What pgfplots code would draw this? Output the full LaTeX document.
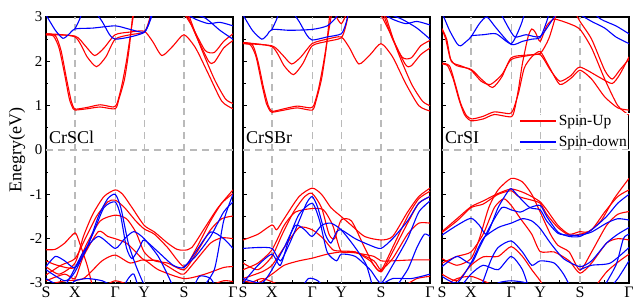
\documentclass[border=0pt]{standalone}
\usepackage{pgfplots}
\pgfplotsset{compat=1.18}
\usepackage{fontspec}
\setmainfont{Liberation Serif}
\definecolor{bandred}{RGB}{255,0,0}
\definecolor{bandblue}{RGB}{0,0,255}
\pgfplotsset{
  bandax/.style={
    scale only axis, width=187pt, height=266pt,
    xmin=0, xmax=1, ymin=-3, ymax=3,
    xtick={0,0.155,0.37,0.525,0.738,1},
    xticklabels={S,X,Γ,Y,S,Γ},
    minor xtick={0.078,0.262,0.45,0.63,0.87},
    ytick={-3,-2,-1,0,1,2,3},
    minor y tick num=1,
    xtick pos=bottom, ytick pos=left,
    tick align=inside,
    major tick length=4pt, minor tick length=2.5pt,
    every tick/.style={black, line width=0.8pt},
    axis line style={line width=1.1pt},
    tick label style={font=\fontsize{15}{15}\selectfont},
    xticklabel style={font=\fontsize{16}{16}\selectfont},
    clip=true,
  },
  up/.style={draw=bandred, line width=1.1pt, smooth, tension=0.4, forget plot},
  dn/.style={draw=bandblue, line width=1.1pt, smooth, tension=0.4, forget plot},
  gridl/.style={color=black!27, line width=1.3pt, dash pattern=on 7pt off 5pt, forget plot},
}
\newcommand\hsym{%
  \addplot[gridl] coordinates {(0,0)(1,0)};
  \addplot[gridl] coordinates {(0.155,-3)(0.155,3)};
  \addplot[gridl] coordinates {(0.37,-3)(0.37,3)};
  \addplot[gridl] coordinates {(0.525,-3)(0.525,3)};
  \addplot[gridl] coordinates {(0.738,-3)(0.738,3)};
}
\begin{document}
\begin{tikzpicture}
\path[use as bounding box] (-46pt,-19pt) rectangle (587pt,283pt);
% ---------------- Panel 1: CrSCl
\begin{axis}[bandax, at={(0pt,0pt)},
  yticklabels={-3,-2,-1,0,1,2,3},
  ylabel={Enegry(eV)},
  ylabel style={font=\fontsize{18}{18}\selectfont, at={(axis description cs:-0.155,0.5)}, anchor=center}]
\hsym
% spin up conduction
\addplot[up] coordinates {(0,2.6)(0.04,2.57)(0.07,2.3)(0.1,1.7)(0.125,1.15)(0.145,0.93)(0.155,0.9)(0.22,0.93)(0.29,0.97)(0.37,0.93)(0.39,1.15)(0.42,1.6)(0.445,2.3)(0.465,3.1)};
\addplot[up] coordinates {(0,2.62)(0.05,2.58)(0.08,2.25)(0.11,1.6)(0.135,1.1)(0.15,0.94)(0.16,0.92)(0.22,0.96)(0.29,1.02)(0.36,0.97)(0.38,1.05)(0.405,1.45)(0.43,2.0)(0.455,2.7)(0.47,3.1)};
\addplot[up] coordinates {(0,2.6)(0.155,2.57)(0.21,2.35)(0.26,2.13)(0.31,2.3)(0.37,2.6)(0.45,2.66)(0.525,2.68)(0.57,2.45)(0.62,2.13)(0.68,2.35)(0.738,2.6)(0.8,2.3)(0.87,1.7)(0.94,1.1)(1,0.93)};
\addplot[up] coordinates {(0,2.62)(0.155,2.55)(0.22,2.1)(0.27,1.88)(0.32,2.1)(0.37,2.5)(0.45,2.6)(0.525,2.66)(0.55,2.9)(0.57,3.2)};
\addplot[up] coordinates {(0.72,3.2)(0.78,2.8)(0.85,2.25)(0.9,2.2)(0.95,2.45)(1,2.62)};
\addplot[up] coordinates {(0.74,3.2)(0.8,2.6)(0.87,2.0)(0.9,1.98)(0.95,2.3)(1,2.47)};
\addplot[up] coordinates {(0.75,3.2)(0.82,2.4)(0.9,1.6)(0.96,1.15)(1,1.05)};
% spin up valence
\addplot[up] coordinates {(0,-2.25)(0.05,-2.24)(0.1,-2.1)(0.155,-1.87)(0.18,-2.1)(0.22,-2.6)(0.25,-3.1)};
\addplot[up] coordinates {(0,-2.63)(0.07,-2.8)(0.155,-2.55)(0.2,-1.95)(0.25,-1.45)(0.31,-1.05)(0.37,-0.9)(0.41,-1.0)(0.46,-1.3)(0.525,-1.7)(0.58,-1.85)(0.65,-2.1)(0.7,-2.24)(0.738,-2.26)(0.78,-2.2)(0.85,-1.75)(0.92,-1.3)(1,-0.9)};
\addplot[up] coordinates {(0,-2.82)(0.08,-2.6)(0.155,-2.45)(0.21,-2.0)(0.27,-1.5)(0.33,-1.17)(0.37,-1.13)(0.42,-1.3)(0.48,-1.6)(0.525,-1.78)(0.58,-1.9)(0.65,-2.2)(0.738,-2.63)(0.8,-2.25)(0.88,-1.6)(0.94,-1.2)(1,-0.98)};
\addplot[up] coordinates {(0,-2.5)(0.06,-2.6)(0.155,-2.65)(0.22,-2.1)(0.29,-1.6)(0.37,-1.47)(0.43,-1.55)(0.48,-1.85)(0.525,-2.3)(0.58,-2.5)(0.65,-2.55)(0.738,-2.7)(0.8,-2.35)(0.88,-1.8)(0.94,-1.55)(1,-1.49)};
\addplot[up] coordinates {(0,-2.95)(0.1,-2.8)(0.155,-2.9)(0.2,-2.4)(0.28,-1.84)(0.33,-1.95)(0.37,-2.0)(0.43,-2.1)(0.48,-2.3)(0.525,-2.48)(0.6,-2.5)(0.7,-2.75)(0.738,-2.8)(0.8,-2.5)(0.88,-2.1)(0.94,-1.98)(1,-2.0)};
\addplot[up] coordinates {(0,-3.05)(0.1,-2.95)(0.2,-2.9)(0.3,-2.5)(0.37,-2.37)(0.45,-2.55)(0.525,-2.48)(0.6,-2.7)(0.738,-2.9)(0.85,-2.8)(0.95,-2.65)(1,-2.63)};
\addplot[up] coordinates {(0.3,-3.1)(0.37,-2.95)(0.45,-3.05)(0.5,-3.1)};
\addplot[up] coordinates {(0.85,-3.1)(0.95,-2.95)(1,-2.97)};
% spin down conduction
\addplot[dn] coordinates {(0,3.05)(0.05,2.7)(0.09,2.52)(0.12,2.6)(0.155,2.73)(0.25,2.75)(0.37,2.8)(0.45,2.72)(0.525,2.66)(0.56,2.95)(0.58,3.2)};
\addplot[dn] coordinates {(0.155,2.73)(0.18,2.95)(0.2,3.2)};
\addplot[dn] coordinates {(0.25,3.2)(0.3,2.9)(0.34,2.6)(0.37,2.5)(0.45,2.55)(0.525,2.65)(0.55,2.85)(0.57,3.2)};
\addplot[dn] coordinates {(0.74,3.1)(0.8,2.95)(0.87,2.85)(0.93,2.88)(1,2.8)};
\addplot[dn] coordinates {(0.76,3.1)(0.85,2.98)(0.93,2.7)(1,2.5)};
% spin down valence
\addplot[dn] coordinates {(0,-2.63)(0.05,-2.4)(0.1,-2.5)(0.155,-2.65)(0.22,-2.2)(0.28,-1.5)(0.33,-1.1)(0.37,-1.0)(0.4,-1.3)(0.44,-2.1)(0.48,-2.6)(0.52,-3.0)(0.55,-3.2)};
\addplot[dn] coordinates {(0,-2.7)(0.1,-2.95)(0.155,-2.75)(0.25,-1.9)(0.31,-1.3)(0.37,-1.17)(0.4,-1.5)(0.43,-2.2)(0.46,-2.45)(0.5,-2.2)(0.525,-2.03)(0.6,-2.3)(0.68,-2.6)(0.738,-2.65)(0.8,-2.3)(0.88,-1.85)(0.95,-2.0)(1,-2.22)};
\addplot[dn] coordinates {(0,-2.9)(0.1,-3.05)(0.2,-2.3)(0.28,-1.95)(0.37,-2.22)(0.42,-2.0)(0.47,-1.84)(0.525,-2.0)(0.6,-2.4)(0.66,-2.9)(0.69,-3.2)};
\addplot[dn] coordinates {(0.82,-3.2)(0.9,-2.7)(0.95,-1.6)(1,-1.0)};
\addplot[dn] coordinates {(0.738,-2.63)(0.8,-2.4)(0.88,-1.95)(0.95,-1.4)(1,-1.17)};
\addplot[dn] coordinates {(0.12,-3.1)(0.155,-2.95)(0.22,-2.9)(0.3,-2.95)(0.37,-3.1)};
\addplot[dn] coordinates {(0.4,-3.2)(0.44,-2.9)(0.47,-2.8)(0.5,-3.2)};
\addplot[dn] coordinates {(0.78,-3.2)(0.82,-2.85)(0.88,-2.9)(0.92,-3.2)};
\node[anchor=base west, font=\fontsize{18}{18}\selectfont, inner sep=0pt] at (axis cs:0.015,0.14) {CrSCl};
\end{axis}
% ---------------- Panel 2: CrSBr
\begin{axis}[bandax, at={(197pt,0pt)}, yticklabels={}]
\hsym
\addplot[up] coordinates {(0,2.4)(0.04,2.37)(0.07,2.1)(0.1,1.5)(0.125,1.05)(0.145,0.88)(0.155,0.85)(0.22,0.9)(0.29,0.95)(0.37,0.9)(0.39,1.1)(0.42,1.6)(0.445,2.3)(0.465,3.1)};
\addplot[up] coordinates {(0,2.42)(0.05,2.38)(0.08,2.0)(0.11,1.4)(0.135,1.0)(0.15,0.89)(0.16,0.87)(0.22,0.93)(0.29,0.99)(0.36,0.95)(0.38,1.02)(0.405,1.4)(0.43,1.95)(0.455,2.6)(0.475,3.1)};
\addplot[up] coordinates {(0,2.4)(0.155,2.35)(0.21,2.15)(0.26,1.94)(0.31,2.1)(0.37,2.4)(0.45,2.5)(0.525,2.55)(0.57,2.3)(0.62,1.94)(0.68,2.15)(0.738,2.4)(0.8,2.1)(0.87,1.5)(0.94,1.0)(1,0.88)};
\addplot[up] coordinates {(0,2.42)(0.155,2.33)(0.22,1.9)(0.27,1.7)(0.32,1.95)(0.37,2.35)(0.45,2.45)(0.525,2.53)(0.55,2.8)(0.57,3.2)};
\addplot[up] coordinates {(0.48,3.15)(0.525,2.85)(0.56,3.15)};
\addplot[up] coordinates {(0.72,3.2)(0.78,2.7)(0.85,2.1)(0.9,2.08)(0.95,2.35)(1,2.47)};
\addplot[up] coordinates {(0.74,3.2)(0.8,2.5)(0.87,1.92)(0.9,1.9)(0.95,2.15)(1,2.3)};
\addplot[up] coordinates {(0.75,3.2)(0.82,2.3)(0.9,1.5)(0.96,1.1)(1,1.0)};
\addplot[up] coordinates {(0,-2.03)(0.08,-1.9)(0.155,-1.69)(0.18,-1.8)(0.22,-1.55)(0.3,-1.05)(0.37,-0.86)(0.42,-1.0)(0.47,-1.3)(0.525,-1.5)(0.58,-1.7)(0.65,-1.95)(0.738,-2.03)(0.8,-1.95)(0.88,-1.4)(0.94,-1.05)(1,-0.86)};
\addplot[up] coordinates {(0,-2.55)(0.08,-2.7)(0.155,-2.4)(0.21,-1.9)(0.27,-1.4)(0.33,-1.05)(0.37,-0.98)(0.42,-1.3)(0.46,-1.9)(0.49,-2.0)(0.525,-1.58)(0.58,-1.6)(0.65,-2.2)(0.7,-2.6)(0.738,-2.72)(0.8,-2.2)(0.88,-1.5)(0.94,-1.1)(1,-0.93)};
\addplot[up] coordinates {(0,-2.7)(0.08,-2.55)(0.155,-2.25)(0.22,-1.7)(0.28,-1.4)(0.37,-1.32)(0.43,-1.35)(0.48,-1.7)(0.525,-2.29)(0.6,-2.3)(0.68,-2.5)(0.738,-2.75)(0.8,-2.3)(0.88,-1.65)(0.94,-1.2)(1,-1.05)};
\addplot[up] coordinates {(0,-2.9)(0.1,-2.75)(0.155,-2.6)(0.22,-2.2)(0.3,-1.75)(0.37,-1.8)(0.43,-2.0)(0.48,-2.25)(0.525,-2.28)(0.6,-2.3)(0.7,-2.5)(0.738,-2.7)(0.8,-2.45)(0.88,-1.9)(0.94,-1.65)(1,-1.65)};
\addplot[up] coordinates {(0,-2.95)(0.08,-3.0)(0.155,-2.8)(0.22,-2.6)(0.3,-2.5)(0.37,-2.44)(0.45,-2.35)(0.525,-2.3)(0.6,-2.32)(0.7,-2.4)(0.738,-2.5)(0.8,-2.5)(0.9,-2.48)(1,-2.48)};
\addplot[up] coordinates {(0,-3.1)(0.1,-2.9)(0.2,-3.05)(0.3,-3.1)};
\addplot[up] coordinates {(0.85,-3.1)(0.93,-2.9)(1,-2.85)};
\addplot[dn] coordinates {(0,3.05)(0.05,2.7)(0.1,2.5)(0.13,2.6)(0.155,2.72)(0.25,2.7)(0.37,2.72)(0.45,2.8)(0.5,3.0)(0.52,3.2)};
\addplot[dn] coordinates {(0.155,2.72)(0.18,2.95)(0.2,3.2)};
\addplot[dn] coordinates {(0.25,3.2)(0.3,2.9)(0.34,2.6)(0.37,2.48)(0.45,2.55)(0.525,2.62)(0.55,2.85)(0.57,3.2)};
\addplot[dn] coordinates {(0.74,3.1)(0.8,2.95)(0.87,2.85)(0.93,2.9)(1,2.82)};
\addplot[dn] coordinates {(0.76,3.1)(0.85,2.95)(0.93,2.75)(1,2.5)};
\addplot[dn] coordinates {(0,-2.22)(0.08,-2.2)(0.155,-2.22)(0.2,-2.5)(0.25,-2.1)(0.3,-1.6)(0.34,-1.2)(0.37,-1.05)(0.4,-1.3)(0.44,-1.9)(0.47,-2.1)(0.5,-1.85)(0.525,-1.8)(0.6,-2.0)(0.68,-2.15)(0.738,-2.22)(0.8,-2.0)(0.88,-1.6)(0.94,-1.2)(1,-1.05)};
\addplot[dn] coordinates {(0,-3.0)(0.08,-2.6)(0.155,-2.35)(0.2,-2.6)(0.25,-1.95)(0.3,-1.45)(0.37,-1.2)(0.41,-1.6)(0.45,-2.3)(0.5,-2.5)(0.525,-2.35)(0.6,-2.4)(0.68,-2.7)(0.738,-3.0)(0.8,-2.6)(0.88,-2.0)(0.94,-1.4)(1,-1.15)};
\addplot[dn] coordinates {(0,-2.9)(0.1,-3.0)(0.155,-2.7)(0.22,-2.2)(0.28,-1.7)(0.33,-1.8)(0.37,-1.95)(0.42,-1.7)(0.47,-1.65)(0.525,-1.8)(0.6,-2.2)(0.66,-2.6)(0.7,-3.2)};
\addplot[dn] coordinates {(0.8,-3.2)(0.88,-2.7)(0.93,-2.2)(0.97,-1.9)(1,-1.95)};
\addplot[dn] coordinates {(0.3,-3.2)(0.35,-2.9)(0.4,-2.95)(0.45,-3.2)};
\addplot[dn] coordinates {(0.738,-3.05)(0.8,-2.9)(0.9,-2.9)(1,-2.8)};
\node[anchor=base west, font=\fontsize{18}{18}\selectfont, inner sep=0pt] at (axis cs:0.015,0.14) {CrSBr};
\end{axis}
% ---------------- Panel 3: CrSI
\begin{axis}[bandax, at={(396pt,0pt)}, yticklabels={},
  legend style={at={(axis description cs:1,0.5)}, anchor=south east, draw=white, fill=none,
    font=\fontsize{15.5}{15.5}\selectfont, inner sep=0pt, row sep=5pt},
  legend cell align=left,
  legend image code/.code={\draw[#1, line width=1.9pt] (0pt,0pt) -- (36pt,0pt);}]
\hsym
\addplot[up, forget plot=false] coordinates {(0,1.94)(0.03,1.9)(0.06,1.6)(0.09,1.15)(0.12,0.8)(0.155,0.66)(0.22,0.7)(0.28,0.8)(0.37,0.75)(0.39,0.95)(0.41,1.4)(0.43,1.95)(0.46,2.55)(0.48,2.73)(0.5,2.65)(0.525,2.45)(0.56,2.8)(0.6,2.95)(0.68,2.85)(0.738,2.72)(0.8,2.3)(0.87,1.6)(0.94,1.0)(1,0.79)};
\addplot[up] coordinates {(0,1.96)(0.04,1.9)(0.07,1.5)(0.1,1.05)(0.13,0.78)(0.16,0.7)(0.22,0.76)(0.28,0.86)(0.36,0.82)(0.38,0.9)(0.41,1.3)(0.44,1.85)(0.48,2.1)(0.525,2.22)(0.57,1.9)(0.63,1.48)(0.69,1.62)(0.738,1.8)(0.8,1.6)(0.87,1.2)(0.94,0.95)(1,0.9)};
\addplot[up] coordinates {(0,2.72)(0.02,2.5)(0.045,2.05)(0.08,1.9)(0.155,1.82)(0.21,1.6)(0.27,1.41)(0.32,1.65)(0.37,2.08)(0.45,2.14)(0.525,2.18)(0.57,2.5)(0.6,2.9)(0.62,3.2)};
\addplot[up] coordinates {(0,2.74)(0.025,2.5)(0.05,2.0)(0.1,1.9)(0.155,1.8)(0.21,1.55)(0.26,1.48)(0.32,1.7)(0.37,2.04)(0.45,2.12)(0.525,2.15)(0.58,1.8)(0.63,1.55)(0.69,1.68)(0.738,1.87)(0.85,1.62)(0.91,1.5)(0.95,1.7)(1,2.1)};
\addplot[up] coordinates {(0.7,3.2)(0.738,2.9)(0.8,2.5)(0.87,1.8)(0.91,1.6)(0.95,1.8)(1,2.05)};
\addplot[up] coordinates {(0,-1.84)(0.08,-1.55)(0.155,-1.28)(0.22,-1.15)(0.3,-0.98)(0.37,-0.88)(0.43,-0.95)(0.48,-1.05)(0.525,-1.17)(0.56,-1.35)(0.62,-1.7)(0.68,-1.9)(0.738,-1.84)(0.78,-1.85)(0.85,-1.6)(0.92,-1.1)(1,-0.64)};
\addplot[up] coordinates {(0,-1.86)(0.08,-1.6)(0.155,-1.3)(0.22,-1.22)(0.3,-1.0)(0.37,-0.92)(0.41,-1.05)(0.47,-1.12)(0.525,-1.2)(0.56,-1.45)(0.62,-1.75)(0.68,-1.92)(0.738,-1.9)(0.8,-1.8)(0.87,-1.4)(0.94,-1.05)(1,-0.9)};
\addplot[up] coordinates {(0,-2.45)(0.08,-2.6)(0.155,-2.45)(0.2,-2.0)(0.25,-1.3)(0.3,-0.9)(0.37,-0.64)(0.43,-0.72)(0.48,-1.0)(0.525,-1.4)(0.58,-1.9)(0.62,-2.15)(0.68,-2.3)(0.738,-2.71)(0.8,-2.3)(0.88,-1.7)(0.94,-1.45)(1,-1.39)};
\addplot[up] coordinates {(0,-2.55)(0.08,-2.4)(0.155,-2.3)(0.22,-1.9)(0.28,-1.3)(0.33,-1.1)(0.37,-1.25)(0.42,-1.55)(0.48,-1.9)(0.525,-2.29)(0.6,-2.3)(0.68,-2.5)(0.738,-2.78)(0.8,-2.55)(0.88,-2.1)(0.94,-2.0)(1,-2.03)};
\addplot[up] coordinates {(0,-2.8)(0.08,-2.95)(0.155,-2.6)(0.22,-2.41)(0.3,-2.4)(0.37,-2.18)(0.43,-2.4)(0.48,-2.7)(0.525,-2.95)(0.56,-3.2)};
\addplot[up] coordinates {(0.8,-3.2)(0.88,-2.75)(0.95,-2.5)(1,-2.35)};
\addplot[up] coordinates {(0,-3.1)(0.08,-2.9)(0.155,-2.85)(0.22,-2.95)(0.3,-3.1)};
\addplot[dn, forget plot=false] coordinates {(0,3.1)(0.04,2.7)(0.08,2.4)(0.1,2.35)(0.13,2.45)(0.155,2.55)(0.2,2.85)(0.24,3.0)(0.29,2.75)(0.37,2.38)(0.43,2.45)(0.48,2.5)(0.525,2.54)(0.56,2.9)(0.58,3.2)};
\addplot[dn] coordinates {(0.155,2.58)(0.22,2.6)(0.29,2.62)(0.37,2.4)(0.42,2.8)(0.45,3.2)};
\addplot[dn] coordinates {(0.3,3.2)(0.35,2.8)(0.39,2.55)(0.45,2.6)(0.525,2.56)(0.6,3.0)(0.63,3.2)};
\addplot[dn] coordinates {(0.74,3.05)(0.8,2.9)(0.87,2.75)(0.93,2.55)(1,2.4)};
\addplot[dn] coordinates {(0.78,3.2)(0.85,2.95)(0.93,2.8)(1,2.62)};
\addplot[dn] coordinates {(0,-1.92)(0.08,-1.7)(0.155,-1.54)(0.2,-1.7)(0.24,-1.9)(0.3,-1.3)(0.35,-0.95)(0.37,-0.87)(0.41,-1.05)(0.47,-1.3)(0.525,-1.35)(0.56,-1.6)(0.62,-1.88)(0.68,-1.92)(0.738,-1.92)(0.8,-1.85)(0.88,-1.65)(0.94,-1.55)(1,-1.58)};
\addplot[dn] coordinates {(0,-2.63)(0.08,-2.4)(0.155,-2.56)(0.2,-2.2)(0.26,-1.7)(0.32,-1.3)(0.37,-1.35)(0.42,-1.4)(0.47,-1.3)(0.525,-1.25)(0.56,-1.5)(0.62,-1.85)(0.68,-1.95)(0.738,-1.95)(0.8,-1.8)(0.88,-1.5)(0.94,-1.2)(1,-1.0)};
\addplot[dn] coordinates {(0,-2.85)(0.08,-3.0)(0.155,-2.55)(0.22,-2.0)(0.3,-1.75)(0.37,-1.65)(0.43,-1.55)(0.48,-1.6)(0.525,-1.77)(0.58,-2.1)(0.65,-2.45)(0.738,-2.63)(0.8,-2.5)(0.88,-2.1)(0.94,-1.9)(1,-1.75)};
\addplot[dn] coordinates {(0.2,-3.2)(0.26,-2.5)(0.3,-2.2)(0.37,-2.05)(0.43,-2.3)(0.48,-2.6)(0.525,-2.5)(0.6,-2.55)(0.65,-2.8)(0.7,-3.2)};
\addplot[dn] coordinates {(0.08,-3.2)(0.155,-2.8)(0.22,-2.6)(0.3,-2.7)(0.37,-2.4)(0.43,-2.7)(0.47,-3.2)};
\addplot[dn] coordinates {(0.738,-2.7)(0.8,-2.6)(0.9,-2.55)(1,-2.2)};
\addplot[dn] coordinates {(0.85,-3.2)(0.93,-2.6)(0.97,-2.0)(1,-1.9)};
\addplot[dn] coordinates {(0.88,-3.2)(0.94,-2.9)(1,-2.5)};
\addplot[dn] coordinates {(0.25,-3.2)(0.3,-3.0)(0.37,-2.95)(0.45,-3.0)(0.5,-3.2)};
\legend{Spin-Up,Spin-down}
\node[anchor=base west, font=\fontsize{18}{18}\selectfont, inner sep=0pt] at (axis cs:0.015,0.14) {CrSI};
\end{axis}
\end{tikzpicture}
\end{document}
